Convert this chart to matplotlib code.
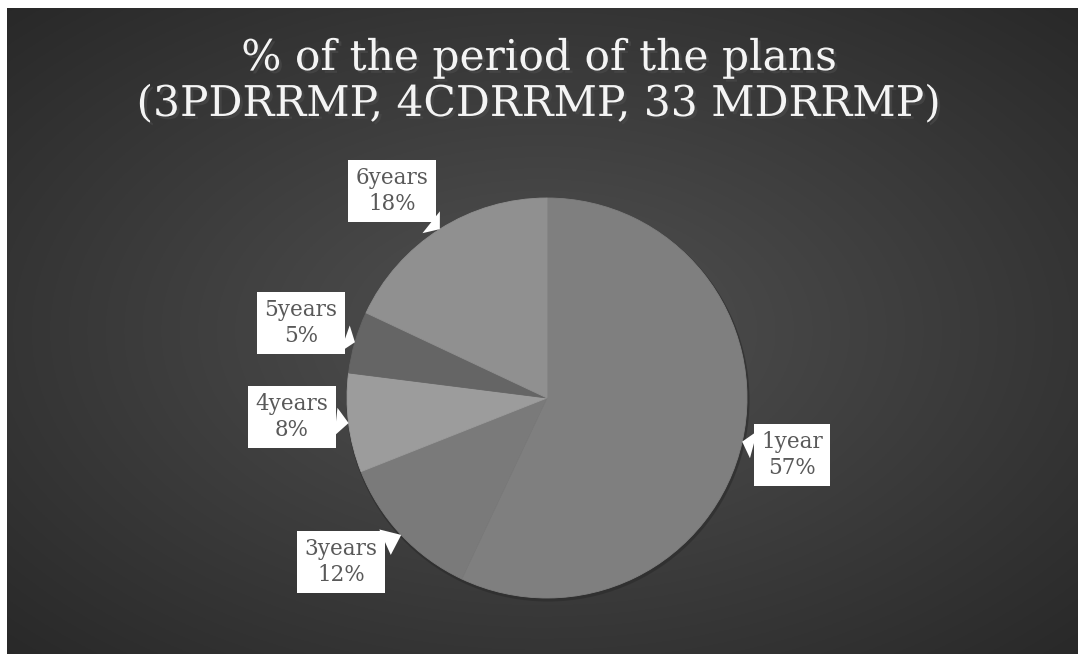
import numpy as np
import matplotlib
matplotlib.use('Agg')
import matplotlib.pyplot as plt
import matplotlib.patheffects as pe
from matplotlib.patches import Circle

labels = ['1year', '3years', '4years', '5years', '6years']
values = [57, 12, 8, 5, 18]
colors = ['#7f7f7f', '#7a7a7a', '#9c9c9c', '#656565', '#909090']
title = '% of the period of the plans\n(3PDRRMP, 4CDRRMP, 33 MDRRMP)'

# label box centres, in pixels from the top-left
label_pos = {'1year': (792, 455), '3years': (341, 562), '4years': (292, 417),
             '5years': (301, 323), '6years': (392, 191)}

W, H = 1078, 654
fig = plt.figure(figsize=(W/100, H/100), dpi=100, facecolor='white')

# dark radial background
bg = fig.add_axes([7/W, 0, 1 - 7/W, 1 - 8/H])
bg.axis('off')
yy, xx = np.mgrid[0:1:400j, 0:1:700j]
r = np.sqrt(((xx - 0.5)/0.75)**2 + ((yy - 0.5)/0.75)**2)
g = 0.32 - 0.17*np.clip(r, 0, 1)
bg.imshow(np.dstack([g, g, g]), aspect='auto', extent=[0, 1, 0, 1])

ax = fig.add_axes([0, 0, 1, 1])
cx, cy, rad = 547, H - 398, 200

# soft shadow under the pie
ax.add_patch(Circle((cx + 1, cy - 2), rad + 1.5, fc='#2a2a2a', ec='none', alpha=0.6))

wedges, _ = ax.pie(values, colors=colors, startangle=90, counterclock=False,
                   center=(cx, cy), radius=rad, frame=True,
                   wedgeprops=dict(linewidth=0.6, edgecolor='none'))
for w, c in zip(wedges, colors):
    w.set_edgecolor(c)
ax.set_xlim(0, W)
ax.set_ylim(0, H)
ax.set_aspect('equal')
ax.axis('off')

for w, lab, v in zip(wedges, labels, values):
    ang = np.deg2rad((w.theta1 + w.theta2) / 2)
    px, py = cx + rad*np.cos(ang), cy + rad*np.sin(ang)
    tx, ty = label_pos[lab]
    ax.annotate(f'{lab}\n{v}%', xy=(px, py), xytext=(tx, H - ty),
                ha='center', va='center', multialignment='center',
                fontsize=15.5, color='#595959',
                family='DejaVu Serif', linespacing=1.2,
                bbox=dict(boxstyle='square,pad=0.35', fc='white', ec='none'),
                arrowprops=dict(arrowstyle='wedge,tail_width=1.3,shrink_factor=0.5',
                                fc='white', ec='none', shrinkA=0, shrinkB=0))

fig.text(0.5, 1 - 81/H, title, ha='center', va='center', fontsize=30.5,
         color='#f4f4f4', family='DejaVu Serif', linespacing=1.12,
         path_effects=[pe.SimplePatchShadow(offset=(2, -2), alpha=0.7), pe.Normal()])

fig.savefig('out.png', dpi=100, facecolor='white')
